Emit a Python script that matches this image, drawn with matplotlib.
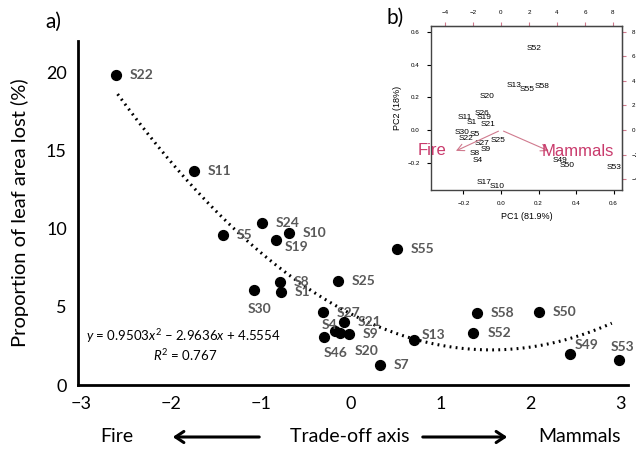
import matplotlib.pyplot as plt
import matplotlib
import numpy as np

matplotlib.rcParams['font.family'] = ['Lato', 'DejaVu Sans']
matplotlib.rcParams['mathtext.fontset'] = 'custom'
matplotlib.rcParams['mathtext.rm'] = 'Lato'
matplotlib.rcParams['mathtext.it'] = 'Lato:italic'

# panel a: trade-off axis score vs. leaf area lost
species = ['S22', 'S11', 'S24', 'S10', 'S5', 'S19', 'S55', 'S8', 'S25', 'S30',
           'S1', 'S27', 'S58', 'S50', 'S21', 'S4', 'S20', 'S9', 'S46', 'S13',
           'S52', 'S49', 'S53', 'S7']
tradeoff = [-2.61, -1.74, -0.99, -0.69, -1.42, -0.83, 0.51, -0.79, -0.14, -1.08,
            -0.78, -0.31, 1.40, 2.09, -0.08, -0.18, -0.12, -0.02, -0.30, 0.70,
            1.36, 2.44, 2.98, 0.32]
leaf_lost = [19.8, 13.7, 10.35, 9.7, 9.6, 9.3, 8.7, 6.6, 6.65, 6.1,
             5.95, 4.7, 4.6, 4.65, 4.0, 3.45, 3.3, 3.25, 3.05, 2.9,
             3.3, 2.0, 1.6, 1.3]
# label offsets in pixels
label_off = {'S30': (-6, -19), 'S4': (-13, 6), 'S46': (0, -16), 'S20': (15, -18),
             'S19': (9, -7), 'S13': (8, 5), 'S49': (4, 9), 'S53': (-8, 13),
             'S27': (14, -1)}
fit_coef = [0.9503, -2.9636, 4.5554]

# panel b: PCA biplot
pc_labels = ['S52', 'S13', 'S55', 'S58', 'S20', 'S26', 'S11', 'S19', 'S1', 'S21',
             'S30', 'S5', 'S22', 'S27', 'S25', 'S9', 'S8', 'S4', 'S49', 'S50',
             'S53', 'S17', 'S10']
pc1 = [0.176, 0.069, 0.139, 0.219, -0.075, -0.101, -0.192, -0.091, -0.155, -0.069,
       -0.208, -0.139, -0.187, -0.101, -0.016, -0.080, -0.139, -0.123, 0.315, 0.352,
       0.603, -0.091, -0.021]
pc2 = [0.503, 0.276, 0.250, 0.264, 0.207, 0.104, 0.074, 0.074, 0.043, 0.031,
       -0.018, -0.025, -0.055, -0.080, -0.067, -0.117, -0.147, -0.184, -0.190, -0.220,
       -0.227, -0.319, -0.344]
load_names = ['Fire', 'Mammals']
load_x = [-3.4, 3.6]
load_y = [-1.8, -1.8]

fig = plt.figure(figsize=(6.36, 4.53), dpi=100)
ax = fig.add_axes([78 / 636, 1 - 385 / 453, 550 / 636, 344 / 453])

ax.scatter(tradeoff, leaf_lost, s=50, color='black', zorder=3)
gray = '#595959'
for name, x, y in zip(species, tradeoff, leaf_lost):
    dx, dy = label_off.get(name, (14, 0))
    ax.annotate(name, (x, y), xytext=(dx, dy), textcoords='offset pixels',
                ha='left', va='center', fontsize=10, fontweight='bold', color=gray)

xc = np.linspace(min(tradeoff) + 0.02, 2.9, 200)
ax.plot(xc, np.polyval(fit_coef, xc), ls=(0, (0.6, 1.4)), color='black', lw=2.2)

ax.set_xlim(-3.03, 3.08)
ax.set_ylim(0, 22)
ax.set_xticks([-3, -2, -1, 0, 1, 2, 3])
ax.set_yticks([0, 5, 10, 15, 20])
ax.tick_params(length=0, labelsize=13, pad=8)
for s in ['top', 'right']:
    ax.spines[s].set_visible(False)
for s in ['left', 'bottom']:
    ax.spines[s].set_linewidth(2)

ax.text(-1.86, 3.1, r'$y$ = 0.9503$x^2$ – 2.9636$x$ + 4.5554', ha='center', va='center',
        fontsize=9.5)
ax.text(-1.84, 1.9, r'$R^2$ = 0.767', ha='center', va='center', fontsize=9.5)

fig.text(20 / 636, 1 - 213 / 453, 'Proportion of leaf area lost (%)', rotation=90,
         ha='center', va='center', fontsize=14.5)
fig.text(53 / 636, 1 - 22 / 453, 'a)', ha='center', va='center', fontsize=15)

yb = 1 - 437 / 453
fig.text(117 / 636, yb, 'Fire', ha='center', va='center', fontsize=14)
fig.text(350 / 636, yb, 'Trade-off axis', ha='center', va='center', fontsize=14)
fig.text(580 / 636, yb, 'Mammals', ha='center', va='center', fontsize=14)
fig.add_artist(matplotlib.patches.FancyArrowPatch(
    (262 / 636, yb), (170 / 636, yb), transform=fig.transFigure,
    arrowstyle='->,head_length=6,head_width=4', lw=2.2, color='black'))
fig.add_artist(matplotlib.patches.FancyArrowPatch(
    (420 / 636, yb), (510 / 636, yb), transform=fig.transFigure,
    arrowstyle='->,head_length=6,head_width=4', lw=2.2, color='black'))

# inset biplot
fig.text(395 / 636, 1 - 18 / 453, 'b)', ha='center', va='center', fontsize=15)
bx = fig.add_axes([431 / 636, 1 - 190 / 453, 191 / 636, 164 / 453])
for name, x, y in zip(pc_labels, pc1, pc2):
    bx.text(x, y, name, ha='center', va='center', fontsize=6,
            family='Liberation Sans', color='black')
bx.set_xlim(-0.373, 0.645)
bx.set_ylim(-0.368, 0.638)
bx.set_xticks([-0.2, 0.0, 0.2, 0.4, 0.6])
bx.set_yticks([-0.2, 0.0, 0.2, 0.4, 0.6])
bx.tick_params(labelsize=4.5, length=3, width=0.8, pad=5)
for t in bx.get_xticklabels() + bx.get_yticklabels():
    t.set_family('Liberation Sans')
for s in bx.spines.values():
    s.set_color('#444444')
    s.set_linewidth(1)
bx.set_xlabel('PC1 (81.9%)', fontsize=6.5, family='Liberation Sans', labelpad=4)
bx.set_ylabel('PC2 (18%)', fontsize=6.5, family='Liberation Sans', labelpad=4)

kx, ky = 13.4, 13.3
pink = '#d07a8e'
top = bx.secondary_xaxis('top', functions=(lambda v: v * kx, lambda v: v / kx))
top.set_xticks([-4, -2, 0, 2, 4, 6, 8])
top.tick_params(labelsize=4.5, length=3, color=pink, pad=5)
right = bx.secondary_yaxis('right', functions=(lambda v: v * ky, lambda v: v / ky))
right.set_yticks([-4, -2, 0, 2, 4, 6, 8])
right.tick_params(labelsize=4.5, length=3, color=pink, pad=4)
for t in top.get_xticklabels() + right.get_yticklabels():
    t.set_family('Liberation Sans')

for name, lx, ly in zip(load_names, load_x, load_y):
    bx.annotate('', xy=(lx / kx, ly / ky), xytext=(0, 0),
                arrowprops=dict(arrowstyle='->,head_length=0.5,head_width=0.25',
                                color=pink, lw=0.8))
bx.text(-0.368, -0.123, 'Fire', ha='center', va='center', fontsize=12,
        color='#c93a6c', family='Liberation Sans', clip_on=False)
bx.text(0.41, -0.129, 'Mammals', ha='center', va='center', fontsize=12,
        color='#c93a6c', family='Liberation Sans', clip_on=False)

fig.savefig('out.png', dpi=100)
